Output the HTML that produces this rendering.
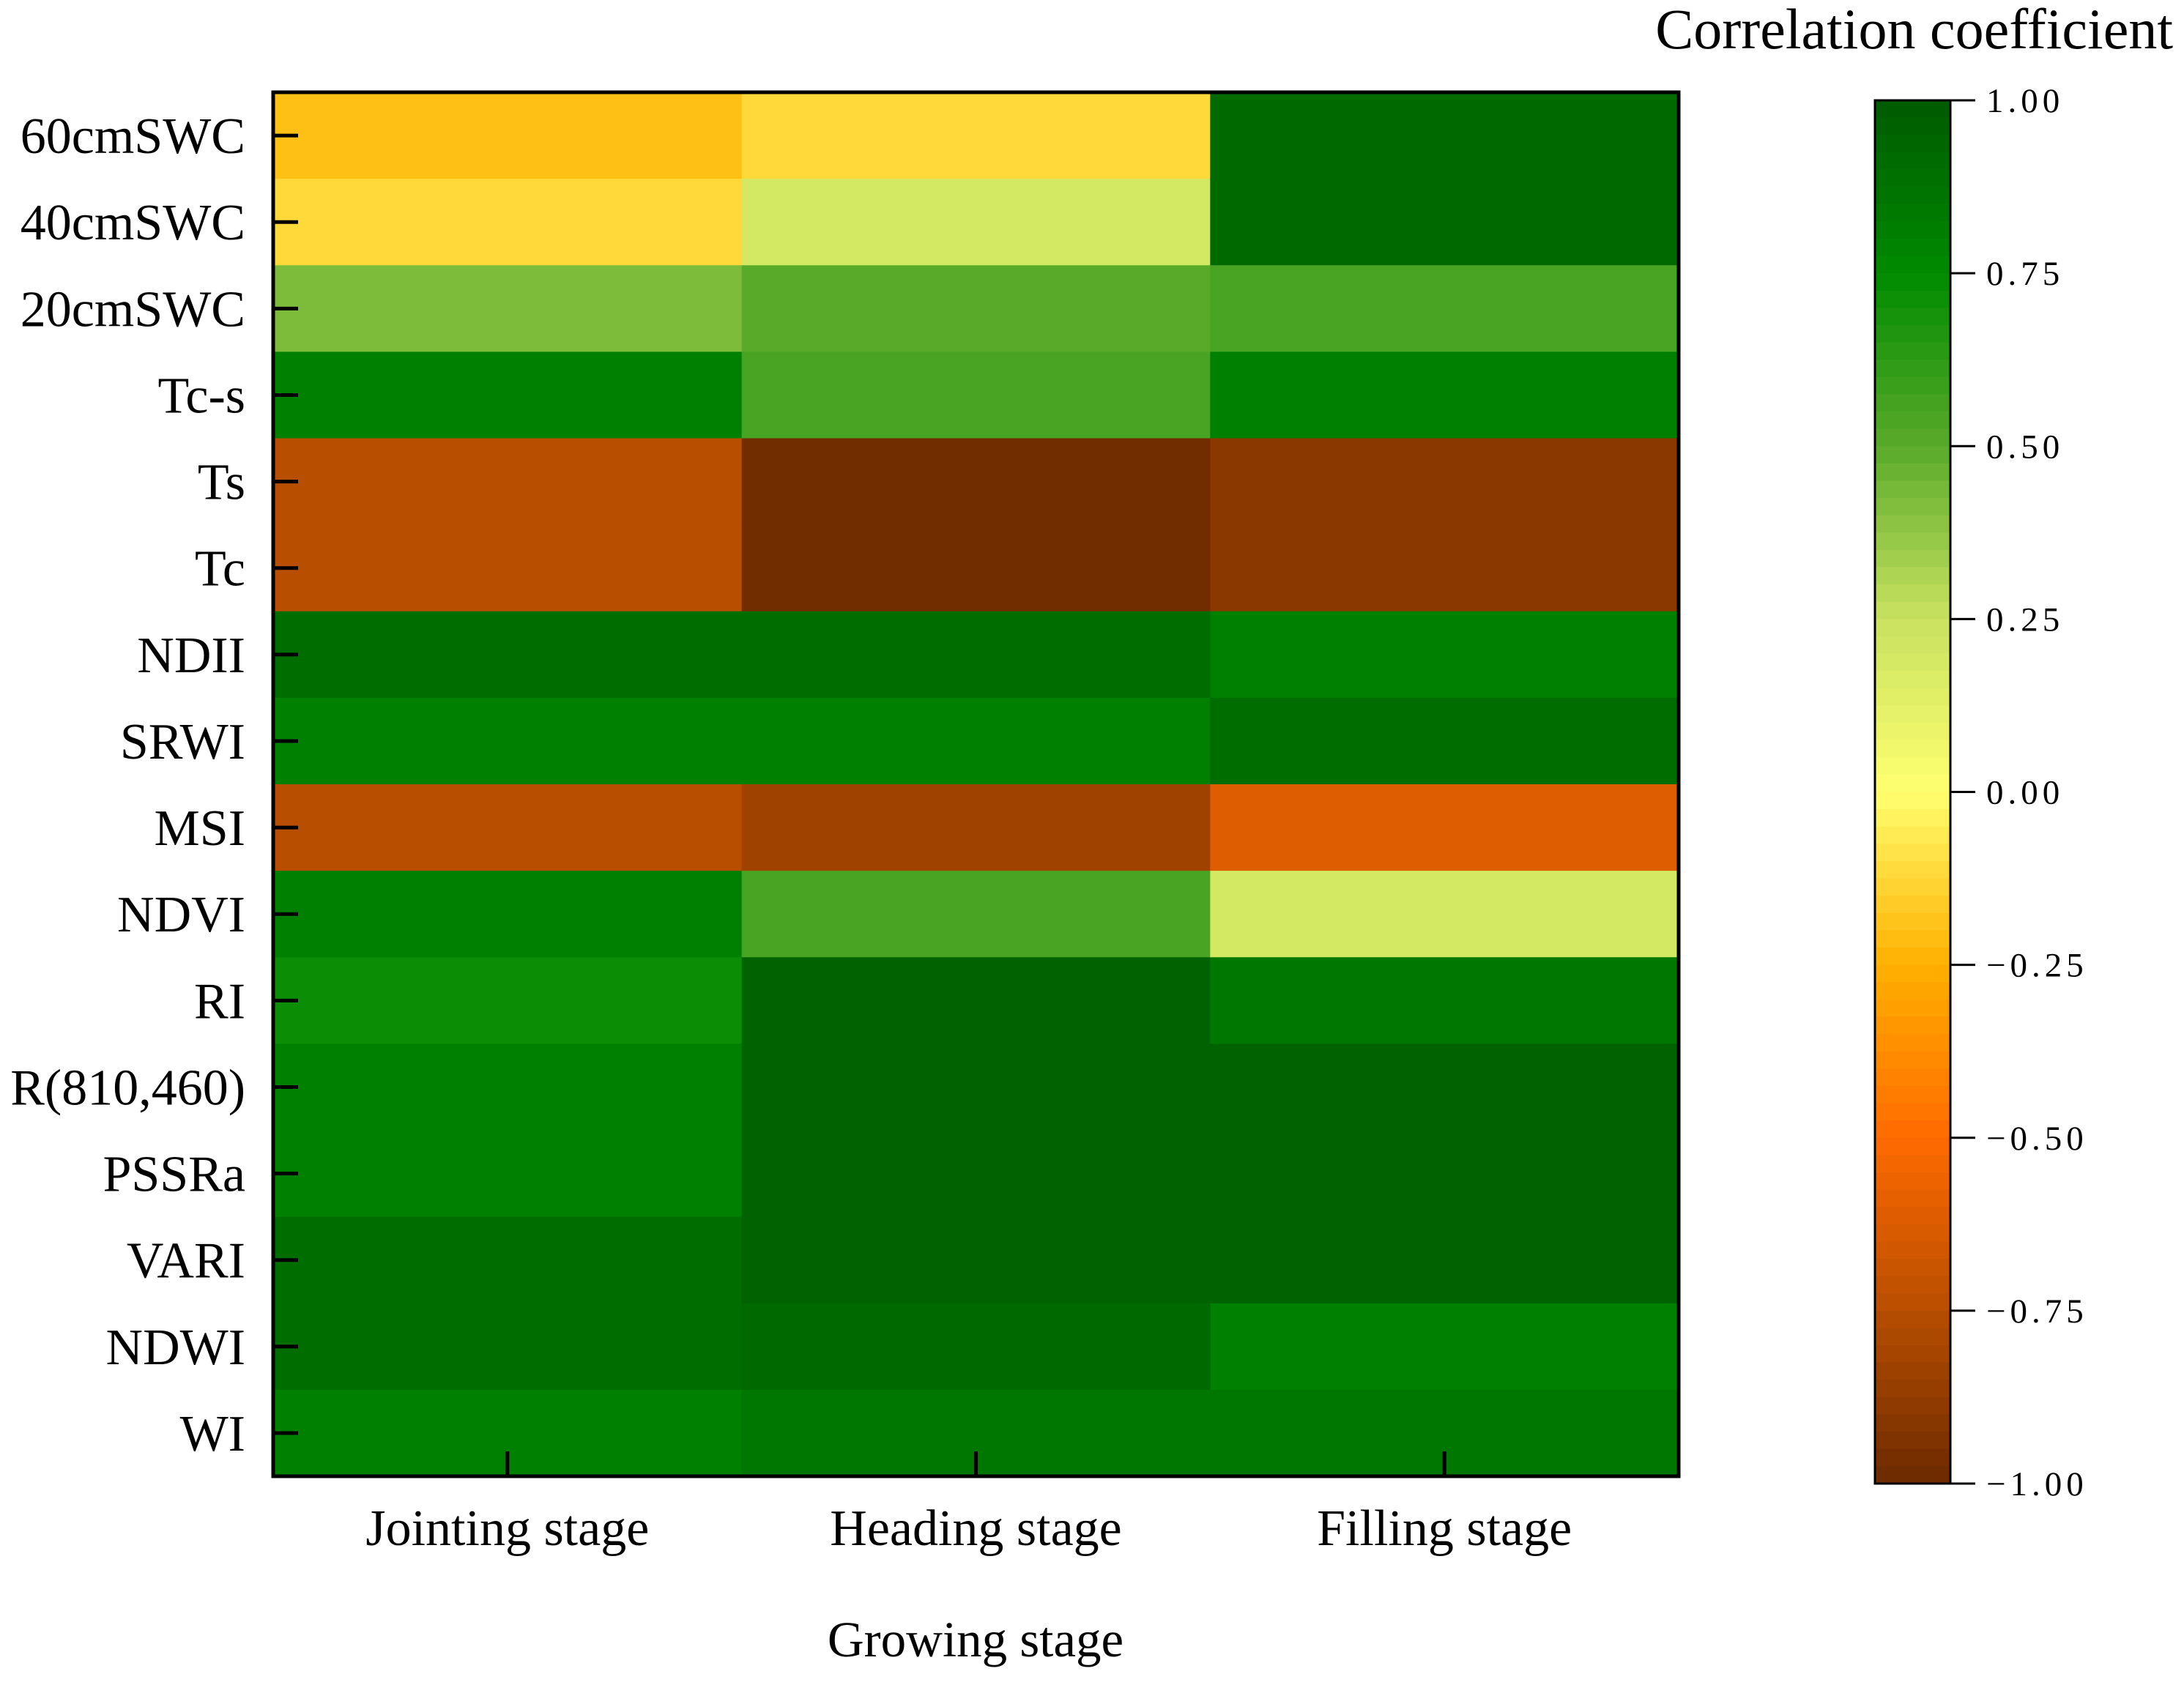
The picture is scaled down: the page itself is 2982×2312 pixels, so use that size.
<!DOCTYPE html>
<html><head><meta charset="utf-8"><style>
html,body{margin:0;padding:0;background:#fff;}
svg{display:block;}
text{font-family:"Liberation Serif",serif;fill:#000;}
</style></head><body>
<svg id="chart" width="2982" height="2312" viewBox="0 0 2982 2312" xmlns="http://www.w3.org/2000/svg">
<g id="cells"></g>
<g id="axes"></g>
<g id="cbar"></g>
<text x="1332" y="2262" font-size="69" text-anchor="middle">Growing stage</text>
<text x="2967" y="66" font-size="78" text-anchor="end">Correlation coefficient</text>
</svg>
<script>
const rows = ["60cmSWC","40cmSWC","20cmSWC","Tc-s","Ts","Tc","NDII","SRWI","MSI","NDVI","RI","R(810,460)","PSSRa","VARI","NDWI","WI"];
const cols = ["Jointing stage","Heading stage","Filling stage"];
const jointing = [-0.2,-0.12,0.42,0.8,-0.75,-0.75,0.9,0.8,-0.75,0.8,0.72,0.8,0.8,0.9,0.9,0.8];
const heading  = [-0.12,0.2,0.5,0.55,-0.98,-0.98,0.9,0.8,-0.83,0.55,0.96,0.96,0.96,0.96,0.92,0.85];
const filling  = [0.92,0.92,0.55,0.8,-0.9,-0.9,0.8,0.9,-0.62,0.2,0.85,0.96,0.96,0.96,0.8,0.85];
const cbTicks = [1,0.75,0.5,0.25,0,-0.25,-0.5,-0.75,-1];
const cbLabels = ["1.00","0.75","0.50","0.25","0.00","\u22121.00".replace("1.00","0.25"),"\u22120.50","\u22120.75","\u22121.00"];

const NS="http://www.w3.org/2000/svg";
const L=373,R=2292,T=126,B=2016;
const cw=(R-L)/cols.length, rh=(B-T)/rows.length;
const stops=[[-1,[107,42,0]],[-0.75,[184,78,0]],[-0.5,[255,106,0]],[-0.25,[255,176,0]],[0,[255,255,112]],[0.25,[200,226,96]],[0.5,[90,170,42]],[0.75,[0,138,0]],[1,[0,90,0]]];
function color(v){for(let i=0;i<stops.length-1;i++){const a=stops[i],b=stops[i+1];if(v<=b[0]){const t=(v-a[0])/(b[0]-a[0]);const c=a[1].map((x,k)=>Math.round(x+(b[1][k]-x)*t));return `rgb(${c})`;}}return "rgb(0,90,0)";}
function mk(tag,attrs,parent){const e=document.createElementNS(NS,tag);for(const k in attrs)e.setAttribute(k,attrs[k]);parent.appendChild(e);return e;}
const cells=document.getElementById('cells'),axes=document.getElementById('axes'),cbar=document.getElementById('cbar');
const series=[jointing,heading,filling];
series.forEach((s,ci)=>s.forEach((v,ri)=>{
 const r=mk('rect',{x:L+ci*cw,y:T+ri*rh,width:cw+1,height:rh+1,fill:color(v)},cells);
 
 
}));
const frame=mk('rect',{x:L,y:T,width:R-L,height:B-T,fill:'none',stroke:'#000','stroke-width':5},axes);


rows.forEach((n,i)=>{
 const y=T+(i+0.5)*rh;
 mk('line',{x1:L,x2:L+34,y1:y,y2:y,stroke:'#000','stroke-width':5},axes);
 const t=mk('text',{x:335,y:y+24,'font-size':70,'text-anchor':'end'},axes);t.textContent=n;
 
 
});
cols.forEach((n,i)=>{
 const x=L+(i+0.5)*cw;
 mk('line',{x1:x,x2:x,y1:B,y2:B-34,stroke:'#000','stroke-width':5},axes);
 const t=mk('text',{x:x,y:2110,'font-size':70,'text-anchor':'middle'},axes);t.textContent=n;
 
 
});
const CL=2560,CR=2663,CT=137,CB=2026,N=80;
for(let i=0;i<N;i++){
 const v=1-2*(i+0.5)/N;
 mk('rect',{x:CL,y:CT+i*(CB-CT)/N,width:CR-CL,height:(CB-CT)/N+1,fill:color(v)},cbar);
}
const cf=mk('rect',{x:CL,y:CT,width:CR-CL,height:CB-CT,fill:'none',stroke:'#000','stroke-width':3},cbar);


cbTicks.forEach((v,i)=>{
 const y=CT+(1-v)/2*(CB-CT);
 mk('line',{x1:CR,x2:CR+34,y1:y,y2:y,stroke:'#000','stroke-width':3},cbar);
 const t=mk('text',{x:2712,y:y+16,'font-size':47,'letter-spacing':'6'},cbar);t.textContent=cbLabels[i];
 
 
});
</script>
</body></html>
